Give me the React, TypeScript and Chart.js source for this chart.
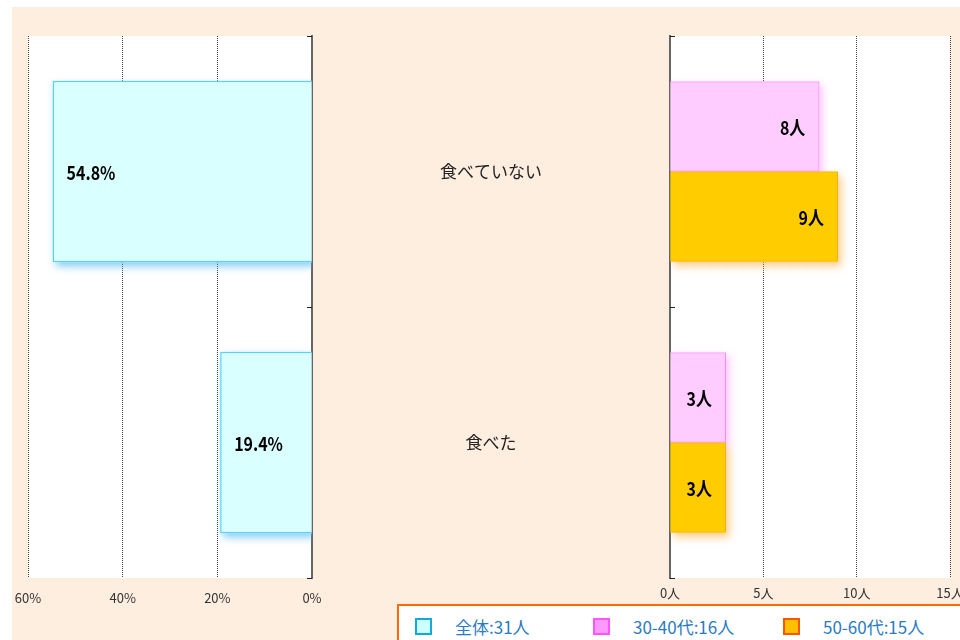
import React, { useEffect, useRef } from "react";
import { Chart, registerables } from "chart.js";

Chart.register(...registerables);

// ---- data ----
const categories = ["食べていない", "食べた"];
const overallLabel = "全体:31人";
const overallValues = [54.8, 19.4];
const group3040Label = "30-40代:16人";
const group3040Values = [8, 3];
const group5060Label = "50-60代:15人";
const group5060Values = [9, 3];
const percentTicks = [0, 20, 40, 60];
const countTicks = [0, 5, 10, 15];

const FONT = '"Noto Sans CJK JP", "Noto Sans", sans-serif';
const LABEL_FONT = 'bold 19px "Noto Sans CJK JP", "Noto Sans", sans-serif';

const plotBg = {
  id: "plotBg",
  beforeDraw(chart: any) {
    const { ctx, chartArea: a } = chart;
    ctx.save();
    ctx.fillStyle = "#ffffff";
    ctx.fillRect(a.left, a.top, a.right - a.left, a.bottom - a.top);
    ctx.restore();
  },
};

const makeShadow = (shadowColors: string[]) => ({
  id: "barShadow",
  beforeDatasetsDraw(chart: any) {
    const { ctx, chartArea: a } = chart;
    ctx.save();
    ctx.beginPath();
    ctx.rect(a.left, a.top, a.right - a.left, a.bottom - a.top);
    ctx.clip();
    chart.data.datasets.forEach((ds: any, di: number) => {
      const meta = chart.getDatasetMeta(di);
      meta.data.forEach((el: any) => {
        const { x, y, base, height } = el.getProps(["x", "y", "base", "height"], true);
        ctx.shadowColor = shadowColors[di];
        ctx.shadowBlur = 8;
        ctx.shadowOffsetX = 3;
        ctx.shadowOffsetY = 4;
        ctx.fillStyle = ds.backgroundColor;
        ctx.fillRect(Math.min(x, base), y - height / 2, Math.abs(x - base), height);
      });
    });
    ctx.restore();
  },
});

const makeLabels = (side: "left" | "right", suffix: string) => ({
  id: "barLabels",
  afterDatasetsDraw(chart: any) {
    const { ctx } = chart;
    chart.data.datasets.forEach((ds: any, di: number) => {
      const meta = chart.getDatasetMeta(di);
      meta.data.forEach((el: any, i: number) => {
        const text = `${ds.data[i]}${suffix}`;
        ctx.save();
        ctx.font = LABEL_FONT;
        ctx.fillStyle = "#000";
        ctx.textBaseline = "middle";
        if (side === "left") {
          ctx.textAlign = "left";
          ctx.translate(el.x + 14, el.y + 1);
        } else {
          ctx.textAlign = "right";
          ctx.translate(el.x - 14, el.y + 1);
        }
        ctx.scale(0.84, 1);
        ctx.fillText(text, 0, 0);
        ctx.restore();
      });
    });
  },
});

const makeInnerTicks = (side: "left" | "right") => ({
  id: "innerTicks",
  afterDraw(chart: any) {
    const s = chart.scales.y;
    const ctx = chart.ctx;
    const x = side === "right" ? chart.chartArea.right : chart.chartArea.left;
    const dir = side === "right" ? -1 : 1;
    ctx.save();
    ctx.strokeStyle = "#222";
    ctx.lineWidth = 1;
    for (let i = 0; i <= categories.length; i++) {
      const y = Math.round(s.getPixelForValue(i - 0.5)) + 0.5;
      ctx.beginPath();
      ctx.moveTo(x, y);
      ctx.lineTo(x + dir * 5, y);
      ctx.stroke();
    }
    ctx.restore();
  },
});

const noPad = (s: any) => {
  s.paddingLeft = 0;
  s.paddingRight = 0;
  s.paddingTop = 0;
  s.paddingBottom = 0;
};

export default function App() {
  const leftRef = useRef<HTMLCanvasElement>(null);
  const rightRef = useRef<HTMLCanvasElement>(null);

  useEffect(() => {
    const left = new Chart(leftRef.current as HTMLCanvasElement, {
      type: "bar",
      data: {
        labels: categories,
        datasets: [
          {
            label: overallLabel,
            data: overallValues,
            backgroundColor: "#d9ffff",
            borderColor: "#5ccff2",
            borderWidth: 1.5,
            categoryPercentage: 0.67,
            barPercentage: 1,
          },
        ],
      },
      options: {
        indexAxis: "y",
        responsive: false,
        animation: false,
        layout: { padding: { left: 16, top: 29, right: 0, bottom: 22 }, autoPadding: false },
        plugins: { legend: { display: false }, tooltip: { enabled: false } },
        scales: {
          x: {
            type: "linear",
            reverse: true,
            min: 0,
            max: 60,
            afterBuildTicks: (s: any) => {
              s.ticks = percentTicks.map((v) => ({ value: v }));
            },
            afterFit: (s: any) => {
              s.height = 40;
              noPad(s);
            },
            grid: { color: "#444", lineWidth: 1, drawTicks: false },
            border: { display: false, dash: [1, 1] },
            ticks: {
              padding: 12,
              color: "#333",
              font: { family: FONT, size: 13 },
              callback: (v: any) => `${v}%`,
            },
          },
          y: {
            position: "right",
            afterFit: (s: any) => {
              s.width = 30;
              noPad(s);
            },
            grid: { display: false },
            border: { display: true, color: "#666", width: 2 },
            ticks: { display: false },
          },
        },
      } as any,
      plugins: [plotBg, makeShadow(["rgba(70,180,240,0.7)"]), makeLabels("left", "%"), makeInnerTicks("right")],
    });

    const right = new Chart(rightRef.current as HTMLCanvasElement, {
      type: "bar",
      data: {
        labels: categories,
        datasets: [
          {
            label: group3040Label,
            data: group3040Values,
            backgroundColor: "#ffccff",
            borderColor: "#ff88ff",
            borderWidth: 1,
            categoryPercentage: 0.665,
            barPercentage: 1,
          },
          {
            label: group5060Label,
            data: group5060Values,
            backgroundColor: "#ffcc00",
            borderColor: "#ffaa22",
            borderWidth: 1,
            categoryPercentage: 0.665,
            barPercentage: 1,
          },
        ],
      },
      options: {
        indexAxis: "y",
        responsive: false,
        animation: false,
        layout: { padding: { left: 0, top: 29, right: 10, bottom: 22 }, autoPadding: false },
        plugins: { legend: { display: false }, tooltip: { enabled: false } },
        scales: {
          x: {
            type: "linear",
            min: 0,
            max: 15,
            afterBuildTicks: (s: any) => {
              s.ticks = countTicks.map((v) => ({ value: v }));
            },
            afterFit: (s: any) => {
              s.height = 40;
              noPad(s);
            },
            grid: { color: "#444", lineWidth: 1, drawTicks: false },
            border: { display: false, dash: [1, 1] },
            ticks: {
              padding: 7,
              color: "#333",
              font: { family: FONT, size: 13 },
              callback: (v: any) => `${v}人`,
            },
          },
          y: {
            position: "left",
            afterFit: (s: any) => {
              s.width = 330;
              noPad(s);
            },
            grid: { display: false },
            border: { display: true, color: "#666", width: 2 },
            ticks: {
              crossAlign: "center",
              padding: 120,
              color: "#222",
              font: { family: FONT, size: 17 },
            },
          },
        },
      } as any,
      plugins: [
        plotBg,
        makeShadow(["rgba(255,140,255,0.55)", "rgba(255,170,50,0.6)"]),
        makeLabels("right", "人"),
        makeInnerTicks("left"),
      ],
    });

    return () => {
      left.destroy();
      right.destroy();
    };
  }, []);

  const legendItems = [
    { label: overallLabel, bg: "#ccffff", border: "#11aadd", left: 16 },
    { label: group3040Label, bg: "#ff99ff", border: "#ff55ff", left: 194 },
    { label: group5060Label, bg: "#ffc000", border: "#ff5500", left: 384 },
  ];

  return (
    <div
      style={{
        position: "absolute",
        left: 0,
        top: 0,
        width: 960,
        height: 640,
        overflow: "hidden",
        background: "#ffffff",
      }}
    >
      <div
        style={{
          position: "absolute",
          left: 12,
          top: 7,
          width: 948,
          height: 633,
          background: "#fdeee0",
        }}
      />
      <canvas
        ref={leftRef}
        width={330}
        height={633}
        style={{ position: "absolute", left: 12, top: 7, width: 330, height: 633 }}
      />
      <canvas
        ref={rightRef}
        width={620}
        height={633}
        style={{ position: "absolute", left: 340, top: 7, width: 620, height: 633 }}
      />
      <div
        style={{
          position: "absolute",
          left: 397,
          top: 604,
          width: 600,
          height: 60,
          boxSizing: "border-box",
          border: "2px solid #ff6a00",
          background: "#ffffff",
        }}
      >
        {legendItems.map((it) => (
          <React.Fragment key={it.label}>
            <div
              style={{
                position: "absolute",
                left: it.left,
                top: 12,
                width: 17,
                height: 17,
                boxSizing: "border-box",
                background: it.bg,
                border: `2px solid ${it.border}`,
              }}
            />
            <div
              style={{
                position: "absolute",
                left: it.left + 40,
                top: 11,
                height: 20,
                lineHeight: "20px",
                fontFamily: FONT,
                fontSize: 17,
                color: "#2a7bbf",
                whiteSpace: "nowrap",
              }}
            >
              {it.label}
            </div>
          </React.Fragment>
        ))}
      </div>
    </div>
  );
}
